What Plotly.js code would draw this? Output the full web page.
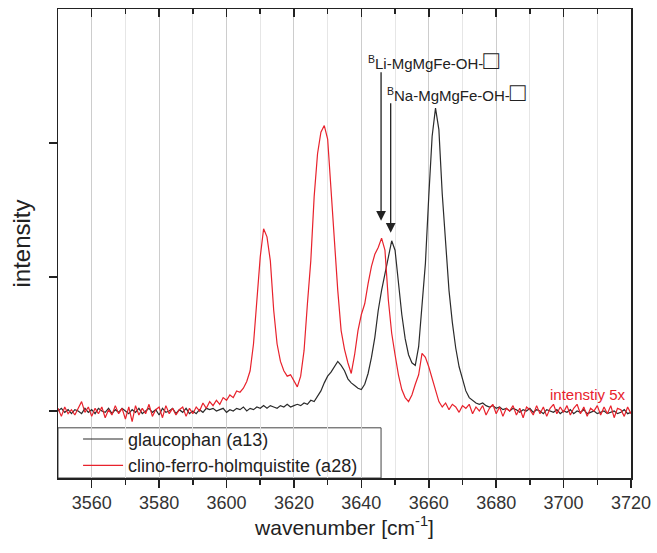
<!DOCTYPE html>
<html>
<head>
<meta charset="utf-8">
<script src="https://cdn.plot.ly/plotly-3.0.1.min.js"></script>
<style>html,body{margin:0;padding:0;background:#fff;}</style>
</head>
<body>
<div id="chart" style="width:657px;height:553px;"></div>
<script>
// wavenumber grid [cm^-1]
var wavenumber = [3550,3551,3552,3553,3554,3555,3556,3557,3558,3559,
3560,3561,3562,3563,3564,3565,3566,3567,3568,3569,
3570,3571,3572,3573,3574,3575,3576,3577,3578,3579,
3580,3581,3582,3583,3584,3585,3586,3587,3588,3589,
3590,3591,3592,3593,3594,3595,3596,3597,3598,3599,
3600,3601,3602,3603,3604,3605,3606,3607,3608,3609,
3610,3611,3612,3613,3614,3615,3616,3617,3618,3619,
3620,3621,3622,3623,3624,3625,3626,3627,3628,3629,
3630,3631,3632,3633,3634,3635,3636,3637,3638,3639,
3640,3641,3642,3643,3644,3645,3646,3647,3648,3649,
3650,3651,3652,3653,3654,3655,3656,3657,3658,3659,
3660,3661,3662,3663,3664,3665,3666,3667,3668,3669,
3670,3671,3672,3673,3674,3675,3676,3677,3678,3679,
3680,3681,3682,3683,3684,3685,3686,3687,3688,3689,
3690,3691,3692,3693,3694,3695,3696,3697,3698,3699,
3700,3701,3702,3703,3704,3705,3706,3707,3708,3709,
3710,3711,3712,3713,3714,3715,3716,3717,3718,3719,3720];

// glaucophan (a13)
var glaucophan = [0.00,0.02,-0.01,0.01,-0.02,0.01,0.00,-0.02,0.02,-0.01,
0.01,-0.02,0.02,0.00,-0.01,0.02,-0.02,0.01,-0.01,0.02,
0.00,-0.02,0.01,-0.01,0.02,-0.02,0.00,0.02,-0.01,0.01,
-0.03,0.02,-0.01,0.00,0.02,-0.02,0.01,-0.01,0.02,-0.02,
0.00,-0.02,0.01,-0.01,0.02,0.01,0.02,0.00,0.01,0.02,
-0.01,0.01,0.00,0.02,0.01,0.03,0.00,0.02,0.01,0.03,
0.02,0.04,0.02,0.04,0.03,0.02,0.04,0.03,0.05,0.03,
0.04,0.05,0.04,0.06,0.05,0.08,0.07,0.11,0.15,0.21,
0.26,0.29,0.33,0.37,0.34,0.30,0.24,0.21,0.19,0.17,
0.16,0.20,0.28,0.40,0.55,0.75,0.90,1.02,1.16,1.27,
1.20,0.96,0.72,0.54,0.42,0.36,0.34,0.48,0.80,1.10,
1.60,2.05,2.26,2.10,1.62,1.22,0.90,0.66,0.47,0.33,
0.23,0.15,0.10,0.08,0.06,0.05,0.06,0.04,0.03,0.04,
0.02,0.03,0.01,0.02,0.00,0.02,0.01,-0.01,0.01,0.00,
0.02,-0.01,0.01,0.00,-0.02,0.01,0.00,-0.01,0.01,-0.02,
0.00,-0.01,0.01,-0.02,0.00,-0.01,0.01,-0.02,-0.01,0.00,
-0.02,-0.01,0.00,-0.02,-0.01,0.00,-0.02,-0.01,0.01,-0.02,-0.01];

// clino-ferro-holmquistite (a28), intensity x5
var holmquistite = [0.02,-0.04,0.03,-0.02,0.01,-0.03,0.02,0.07,-0.01,0.03,
-0.04,0.02,-0.02,0.03,-0.05,0.01,-0.03,0.04,-0.02,0.02,
-0.06,0.03,-0.08,0.04,-0.03,0.02,-0.02,0.05,-0.04,0.01,
0.03,-0.05,0.04,-0.02,0.02,-0.03,0.01,0.03,-0.04,0.02,
-0.02,0.03,0.00,0.06,0.02,0.07,0.04,0.08,0.05,0.10,
0.08,0.12,0.10,0.15,0.14,0.17,0.22,0.30,0.50,0.85,
1.15,1.36,1.30,1.12,0.75,0.50,0.37,0.30,0.26,0.27,
0.22,0.18,0.26,0.45,0.80,1.12,1.60,1.92,2.08,2.13,
2.03,1.65,1.30,0.90,0.60,0.46,0.36,0.28,0.42,0.60,
0.72,0.80,0.95,1.08,1.17,1.22,1.29,1.20,0.83,0.58,
0.42,0.27,0.16,0.10,0.07,0.12,0.20,0.27,0.43,0.40,
0.33,0.24,0.14,0.07,0.03,0.06,0.01,0.05,0.03,-0.01,
0.04,0.02,0.05,-0.02,0.03,0.00,0.04,-0.03,0.02,0.05,
-0.02,0.03,-0.04,0.02,0.00,0.04,-0.03,0.02,-0.05,0.03,
0.01,-0.03,0.04,-0.02,0.03,-0.04,0.02,0.05,-0.02,0.03,
-0.01,0.04,-0.03,0.02,0.05,-0.02,0.03,-0.04,0.02,0.00,
0.04,-0.03,0.03,-0.02,0.04,-0.05,0.02,0.01,-0.04,0.03,-0.02];

var seriesNames = ['glaucophan (a13)', 'clino-ferro-holmquistite (a28)'];
var majorTicks = [3560,3580,3600,3620,3640,3660,3680,3700,3720];
var minorTicks = [3570,3590,3610,3630,3650,3670,3690,3710];
var yTicks = [0,1,2];

var arrowLi = {x: 3645.85, y: 1.42};
var arrowNa = {x: 3648.7, y: 1.33};

var traces = [
  {x: wavenumber, y: glaucophan, name: seriesNames[0], type: 'scatter', mode: 'lines',
   line: {color: '#2b2b2b', width: 1.2}, hoverinfo: 'skip'},
  {x: wavenumber, y: holmquistite, name: seriesNames[1], type: 'scatter', mode: 'lines',
   line: {color: '#e8222c', width: 1.2}, hoverinfo: 'skip'},
  {x: [], y: [], xaxis: 'x2', yaxis: 'y', showlegend: false, hoverinfo: 'skip', type: 'scatter', mode: 'lines'}
];

var axisColor = '#222';
var layout = {
  width: 657, height: 553,
  margin: {l: 58, r: 26, t: 9, b: 75, pad: 0},
  paper_bgcolor: '#ffffff', plot_bgcolor: '#ffffff',
  font: {family: '"Liberation Sans", Arial, sans-serif', color: '#222'},
  showlegend: true,
  legend: {x: 0.035, y: 0.122, xanchor: 'left', yanchor: 'top', bgcolor: 'rgba(0,0,0,0)',
           borderwidth: 0, font: {size: 18, color: '#222'},
           itemwidth: 40, tracegroupgap: 0},
  shapes: [
    {type: 'rect', xref: 'paper', yref: 'paper', x0: 0, x1: 0.5638, y0: 0, y1: 0.107,
     fillcolor: '#ffffff', line: {color: '#444', width: 1}, layer: 'below'}
  ],
  xaxis: {
    range: [3550, 3720], tickmode: 'array', tickvals: majorTicks,
    ticks: 'outside', ticklen: 8, tickwidth: 1.5, tickcolor: axisColor,
    showline: true, linewidth: 1.5, linecolor: axisColor, mirror: true,
    showgrid: true, gridcolor: '#cdcdcd', gridwidth: 1, zeroline: false,
    minor: {tickmode: 'array', tickvals: minorTicks, ticks: 'outside', ticklen: 5, tickwidth: 1.5,
            tickcolor: axisColor, showgrid: true, gridcolor: '#e6e6e6', gridwidth: 1},
    tickfont: {size: 18, color: '#333'},
    title: {text: 'wavenumber [cm<sup>-1</sup>]', font: {size: 21, color: '#222'}, standoff: 0}
  },
  xaxis2: {
    overlaying: 'x', side: 'top', anchor: 'y', range: [3550, 3720],
    tickmode: 'array', tickvals: majorTicks, ticks: 'inside', ticklen: 8, tickwidth: 1.5,
    tickcolor: axisColor, showticklabels: false, showgrid: false, zeroline: false, showline: false,
    minor: {tickmode: 'array', tickvals: minorTicks, ticks: 'inside', ticklen: 5, tickwidth: 1.5,
            tickcolor: axisColor, showgrid: false}
  },
  yaxis: {
    range: [-0.5, 3], tickmode: 'array', tickvals: yTicks, ticks: 'outside', ticklen: 8,
    tickwidth: 1.5, tickcolor: axisColor, showticklabels: false,
    showline: true, linewidth: 1.5, linecolor: axisColor, mirror: true,
    showgrid: false, zeroline: false,
    title: {text: 'intensity', font: {size: 24, color: '#222'}, standoff: 11}
  },
  annotations: [
    {x: arrowLi.x, y: arrowLi.y, xref: 'x', yref: 'y', text: '', showarrow: true,
     ax: 0, ay: -150, arrowhead: 2, arrowsize: 1.5, arrowwidth: 1.3, arrowcolor: '#222', standoff: 0},
    {x: arrowNa.x, y: arrowNa.y, xref: 'x', yref: 'y', text: '', showarrow: true,
     ax: 0, ay: -131, arrowhead: 2, arrowsize: 1.5, arrowwidth: 1.3, arrowcolor: '#222', standoff: 0},
    {x: 3641.4, y: 2.62, xref: 'x', yref: 'y', xanchor: 'left', yanchor: 'middle', showarrow: false,
     text: '<sup>B</sup>Li-MgMgFe-OH-<span style="font-size:26px">□</span>', font: {size: 15, color: '#222'}},
    {x: 3647.0, y: 2.38, xref: 'x', yref: 'y', xanchor: 'left', yanchor: 'middle', showarrow: false,
     text: '<sup>B</sup>Na-MgMgFe-OH-<span style="font-size:26px">□</span>', font: {size: 15, color: '#222'}},
    {x: 3719, y: 0.12, xref: 'x', yref: 'y', xanchor: 'right', yanchor: 'middle', showarrow: false,
     text: 'intenstiy 5x', font: {size: 15, color: '#e8222c'}}
  ]
};

Plotly.newPlot('chart', traces, layout, {staticPlot: true, displayModeBar: false});
</script>
</body>
</html>
